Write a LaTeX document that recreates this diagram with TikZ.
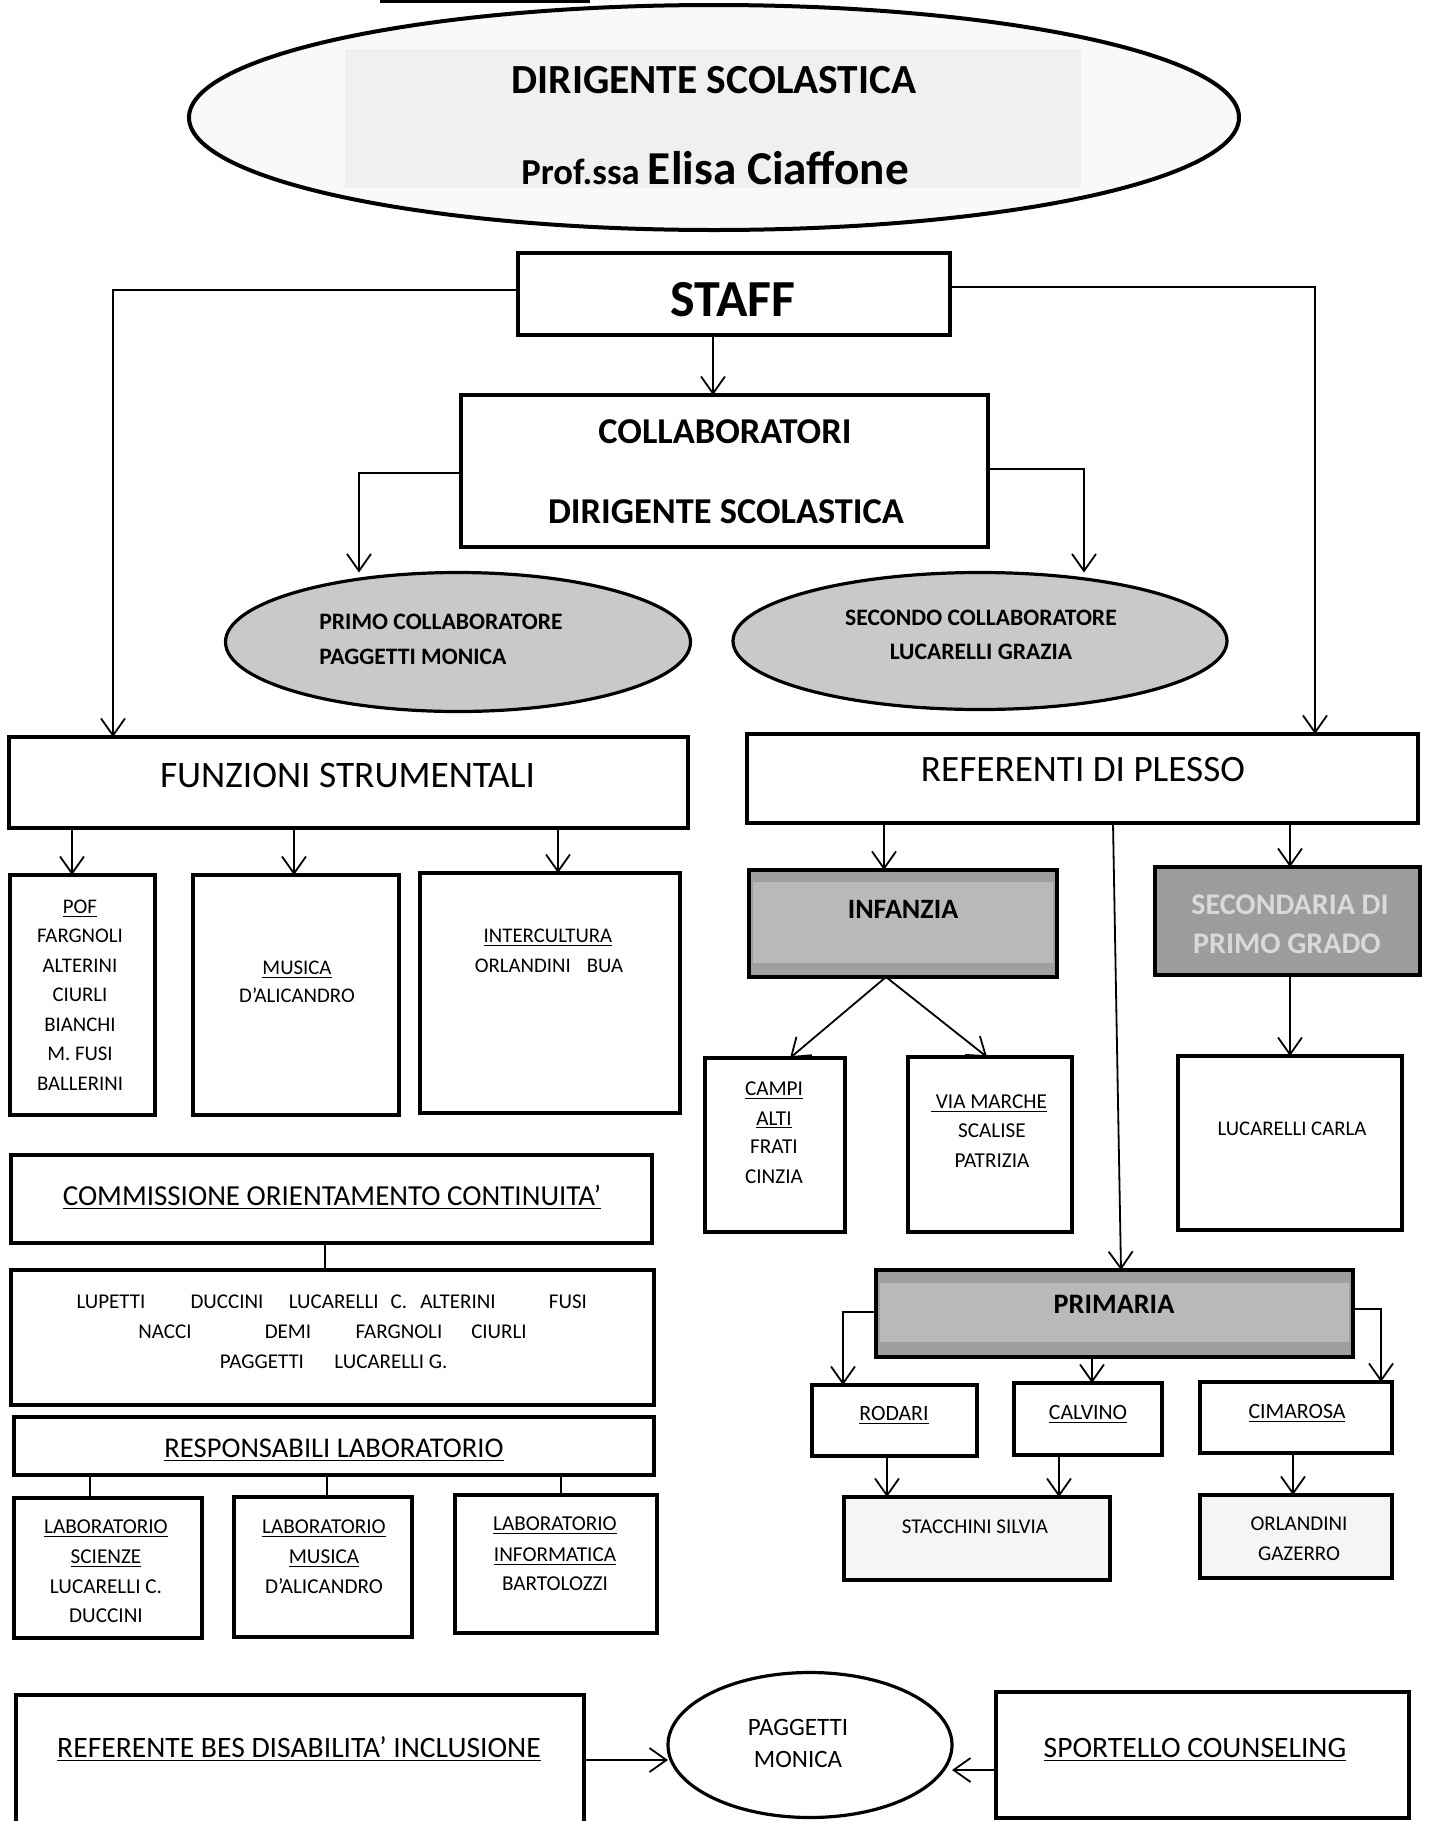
\documentclass[tikz,border=0pt]{standalone}
\usepackage{fontspec}
\setmainfont{Carlito}
\usetikzlibrary{arrows.meta,shapes.geometric,calc}
\begin{document}
\begin{tikzpicture}[x=0.5pt,y=-0.5pt,
  sz/.style 2 args={minimum width={#1*0.5pt},minimum height={#2*0.5pt}},
  box/.style={draw,rectangle,line width=1.6pt,inner sep=0pt,outer sep=0pt},
  oval/.style={draw,ellipse,line width=1.6pt,inner sep=0pt,outer sep=0pt},
  conn/.style={line width=0.9pt},
  arr/.style={conn,-{Straight Barb[length=8.5pt,width=12pt,line width=0.9pt]}},
  txt/.style={inner sep=0pt,anchor=base},
  fs/.style={font=\fontsize{#1pt}{#1pt}\selectfont},
  fsb/.style={font=\fontsize{#1pt}{#1pt}\selectfont\bfseries}]
\useasboundingbox (0,0) rectangle (1431,1821);
\fill[white] (0,0) rectangle (1431,1821);
% fragment at top
\draw[line width=1.6pt] (380,1) -- (590,1);
% ---- top ellipse
\node[oval,line width=2pt,fill=gray!5,sz={1050}{225}] (ds) at (714,117.5) {};
\node[fill=gray!12,inner sep=0pt,sz={736}{139}] (dsr) at (713,118.5) {};
\node[txt,fsb=20.7] (dst1) at (714,93) {DIRIGENTE SCOLASTICA};
\node[txt] (dst2) at (715,184) {\bfseries\fontsize{18.3pt}{20pt}\selectfont Prof.ssa \fontsize{23.6pt}{25pt}\selectfont Elisa Ciaffone};
% ---- staff
\node[box,sz={432}{82}] (staff) at (734,294) {};
\node[txt,fsb=26] (stafft) at (733,316) {STAFF};
\node[box,sz={527}{152}] (collab) at (724.5,471) {};
\node[txt,fsb=18.2] (collabt1) at (725,443) {COLLABORATORI};
\node[txt,fsb=18.2] (collabt2) at (726,523) {DIRIGENTE SCOLASTICA};
\node[oval,fill=gray!42,sz={465}{139}] (primo) at (458,642) {};
\node[txt,anchor=base west,fsb=11.8] (primot1) at (319,629.6) {PRIMO COLLABORATORE};
\node[txt,anchor=base west,fsb=11.8] (primot2) at (319,664.6) {PAGGETTI MONICA};
\node[oval,fill=gray!42,sz={494}{137}] (secondo) at (980,641) {};
\node[txt,fsb=11.8] (secondot1) at (981,625.6) {SECONDO COLLABORATORE};
\node[txt,fsb=11.8] (secondot2) at (981,659.6) {LUCARELLI GRAZIA};
% helper coordinates
\coordinate (xa) at (713,0);
\coordinate (ya) at (359,473);
\coordinate (yb) at (1084,469);
\coordinate (yc) at (113,290);
\coordinate (yd) at (1315,287);
\draw[arr] (staff.south -| xa) -- (collab.north -| xa);
\draw[arr] (collab.west |- ya) -- (ya) -- (ya |- primo.north);
\draw[arr] (collab.east |- yb) -- (yb) -- (yb |- secondo.north);
% ---- funzioni
\node[box,sz={679}{91}] (funz) at (348.5,782.5) {};
\node[txt,fs=18.7] (funzt) at (347.5,787) {FUNZIONI STRUMENTALI};
\draw[arr] (staff.west |- yc) -- (yc) -- (yc |- funz.north);
\node[box,sz={145}{240}] (pof) at (82.5,995) {};
\node[box,sz={206}{240}] (musica) at (296,995) {};
\node[box,sz={260}{240}] (interc) at (550,993) {};
\foreach \n/\t/\y in {p1/\underline{POF}/913, p2/FARGNOLI/942, p3/ALTERINI/972, p4/CIURLI/1001, p5/BIANCHI/1031, p6/M. FUSI/1060, p7/BALLERINI/1090}
  \node[txt,fs=10.4] (\n) at (80,\y) {\t};
\node[txt,fs=10.4] (mus1) at (297,974) {\underline{MUSICA}};
\node[txt,fs=10.4] (mus2) at (297,1002) {D’ALICANDRO};
\node[txt,fs=10.4] (int1) at (548,942) {\underline{INTERCULTURA}};
\node[txt,fs=10.4] (int2) at (549,972) {ORLANDINI\hspace{8pt}BUA};
\coordinate (xb) at (72,0);
\coordinate (xc) at (294,0);
\coordinate (xd) at (558,0);
\draw[arr] (funz.south -| xb) -- (pof.north -| xb);
\draw[arr] (funz.south -| xc) -- (musica.north -| xc);
\draw[arr] (funz.south -| xd) -- (interc.north -| xd);
% ---- referenti
\node[box,sz={671}{89}] (refer) at (1082.5,778.5) {};
\node[txt,fs=18.6] (refert) at (1083,781) {REFERENTI DI PLESSO};
\draw[arr] (staff.east |- yd) -- (yd) -- (yd |- refer.north);
\node[box,fill=gray!75,sz={308}{107}] (infanzia) at (903,923.5) {};
\fill[gray!55] ($(infanzia.north west)+(4,12)$) rectangle ($(infanzia.south east)+(-4,-14)$);
\node[txt,fsb=14] (infanziat) at (903,918.5) {INFANZIA};
\node[box,fill=gray!78,sz={265}{108}] (second) at (1287.5,921) {};
\node[txt,fsb=15,text=gray!30] (secondt1) at (1290,914.7) {SECONDARIA DI};
\node[txt,fsb=15,text=gray!30] (secondt2) at (1287,953.7) {PRIMO GRADO};
\coordinate (xe) at (884,0);
\coordinate (xf) at (1290,0);
\draw[arr] (refer.south -| xe) -- (infanzia.north -| xe);
\draw[arr] (refer.south -| xf) -- (second.north -| xf);
\node[box,sz={140}{174}] (campi) at (775,1145) {};
\node[box,sz={164}{175}] (viam) at (990,1144.5) {};
\node[box,sz={224}{174}] (lucc) at (1290,1143) {};
\node[txt,fs=10.6] (ca1) at (774,1095) {\underline{CAMPI}};
\node[txt,fs=10.6] (ca2) at (774,1125) {\underline{ALTI}};
\node[txt,fs=10.6] (ca3) at (774,1153) {FRATI};
\node[txt,fs=10.6] (ca4) at (774,1183) {CINZIA};
\node[txt,fs=10.6] (vm1) at (989,1108) {\underline{\ VIA MARCHE}};
\node[txt,fs=10.6] (vm2) at (992,1137) {SCALISE};
\node[txt,fs=10.6] (vm3) at (992,1167) {PATRIZIA};
\node[txt,fs=10.4] (lc1) at (1292,1135) {LUCARELLI CARLA};
\coordinate (xg) at (886,0);
\coordinate (xh) at (790,0);
\coordinate (xi) at (987,0);
\draw[arr] (infanzia.south -| xg) -- (campi.north -| xh);
\draw[arr] (infanzia.south -| xg) -- (viam.north -| xi);
\draw[arr] (second.south -| xf) -- (lucc.north -| xf);
% ---- primaria
\node[box,fill=gray!75,sz={477}{87}] (primaria) at (1114.5,1313.5) {};
\fill[gray!55] ($(primaria.north west)+(4,13)$) rectangle ($(primaria.south east)+(-4,-15)$);
\node[txt,fsb=14.1] (primariat) at (1114,1313) {PRIMARIA};
\coordinate (xj) at (1113,0);
\coordinate (xk) at (1121,0);
\draw[arr] (refer.south -| xj) -- (primaria.north -| xk);
\node[box,sz={165}{71}] (rodari) at (894.5,1420.5) {};
\node[box,sz={148}{72}] (calvino) at (1088,1419) {};
\node[box,sz={192}{71}] (cimarosa) at (1296,1417.5) {};
\node[txt,fs=10.9] (rodarit) at (894,1420) {\underline{RODARI}};
\node[txt,fs=10.9] (calvinot) at (1088,1419) {\underline{CALVINO}};
\node[txt,fs=10.9] (cimarosat) at (1297,1418) {\underline{CIMAROSA}};
\coordinate (ye) at (843,1312);
\coordinate (yf) at (1381,1309);
\coordinate (xl) at (1092,0);
\draw[arr] (primaria.west |- ye) -- (ye) -- (ye |- rodari.north);
\draw[arr] (primaria.south -| xl) -- (calvino.north -| xl);
\draw[arr] (primaria.east |- yf) -- (yf) -- (yf |- cimarosa.north);
\node[box,fill=gray!8,sz={266}{83}] (stacc) at (977,1538.5) {};
\node[box,fill=gray!8,sz={192}{83}] (orla) at (1296,1536.5) {};
\node[txt,fs=10.5] (stacct) at (975,1533) {STACCHINI SILVIA};
\node[txt,fs=10.5] (orlat1) at (1299,1530) {ORLANDINI};
\node[txt,fs=10.5] (orlat2) at (1299,1560) {GAZERRO};
\coordinate (xm) at (887,0);
\coordinate (xn) at (1059,0);
\coordinate (xo) at (1293,0);
\draw[arr] (rodari.south -| xm) -- (stacc.north -| xm);
\draw[arr] (calvino.south -| xn) -- (stacc.north -| xn);
\draw[arr] (cimarosa.south -| xo) -- (orla.north -| xo);
% ---- commissione
\node[box,sz={641}{88}] (comm) at (331.5,1199) {};
\node[txt,fs=14.5] (commt) at (332,1205) {\underline{COMMISSIONE ORIENTAMENTO CONTINUITA’}};
\node[box,sz={643}{135}] (names) at (332.5,1337.5) {};
\coordinate (xp) at (325,0);
\draw[conn] (comm.south -| xp) -- (names.north -| xp);
\foreach \n/\t/\x/\y in {n1/LUPETTI/111/1308, n2/DUCCINI/227/1308, n3/LUCARELLI\hspace{6pt}C./348/1308, n4/ALTERINI/458/1308, n5/FUSI/568/1308,
  n6/NACCI/165/1338, n7/DEMI/288/1338, n8/FARGNOLI/399/1338, n9/CIURLI/499/1338,
  n10/PAGGETTI/262/1368, n11/LUCARELLI G./391/1368}
  \node[txt,fs=10.5] (\n) at (\x,\y) {\t};
% ---- responsabili
\node[box,sz={640}{58}] (resp) at (334,1446) {};
\node[txt,fs=14.3] (respt) at (334,1457) {\underline{RESPONSABILI LABORATORIO}};
\node[box,sz={188}{140}] (labsci) at (108,1568) {};
\node[box,sz={178}{140}] (labmus) at (323,1567) {};
\node[box,sz={202}{138}] (labinf) at (556,1564) {};
\coordinate (xq) at (90,0);
\coordinate (xr) at (327,0);
\coordinate (xs) at (561,0);
\draw[conn] (resp.south -| xq) -- (labsci.north -| xq);
\draw[conn] (resp.south -| xr) -- (labmus.north -| xr);
\draw[conn] (resp.south -| xs) -- (labinf.north -| xs);
\node[txt,fs=10.6] (ls1) at (106,1533) {\underline{LABORATORIO}};
\node[txt,fs=10.6] (ls2) at (106,1563) {\underline{SCIENZE}};
\node[txt,fs=10.6] (ls3) at (106,1593) {LUCARELLI C.};
\node[txt,fs=10.6] (ls4) at (106,1622) {DUCCINI};
\node[txt,fs=10.6] (lm1) at (324,1533) {\underline{LABORATORIO}};
\node[txt,fs=10.6] (lm2) at (324,1563) {\underline{MUSICA}};
\node[txt,fs=10.6] (lm3) at (324,1593) {D’ALICANDRO};
\node[txt,fs=10.6] (li1) at (555,1530) {\underline{LABORATORIO}};
\node[txt,fs=10.6] (li2) at (555,1561) {\underline{INFORMATICA}};
\node[txt,fs=10.6] (li3) at (555,1590) {BARTOLOZZI};
% ---- bottom
\node[box,sz={568}{150}] (bes) at (300,1770) {};
\node[txt,fs=14.8] (best) at (299,1757) {\underline{REFERENTE BES DISABILITA’ INCLUSIONE}};
\node[box,sz={413}{126}] (sport) at (1202.5,1755) {};
\node[txt,fs=14.8] (sportt) at (1195,1757) {\underline{SPORTELLO COUNSELING}};
\node[oval,sz={284}{145}] (pag) at (810,1745) {};
\node[txt,fs=12.5] (pagt1) at (798,1735) {PAGGETTI};
\node[txt,fs=12.5] (pagt2) at (798,1767) {MONICA};
\coordinate (yg) at (0,1760);
\coordinate (yh) at (0,1770);
\draw[arr] (bes.east |- yg) -- (pag.west |- yg);
\draw[arr] (sport.west |- yh) -- (pag.east |- yh);
\end{tikzpicture}
\end{document}
